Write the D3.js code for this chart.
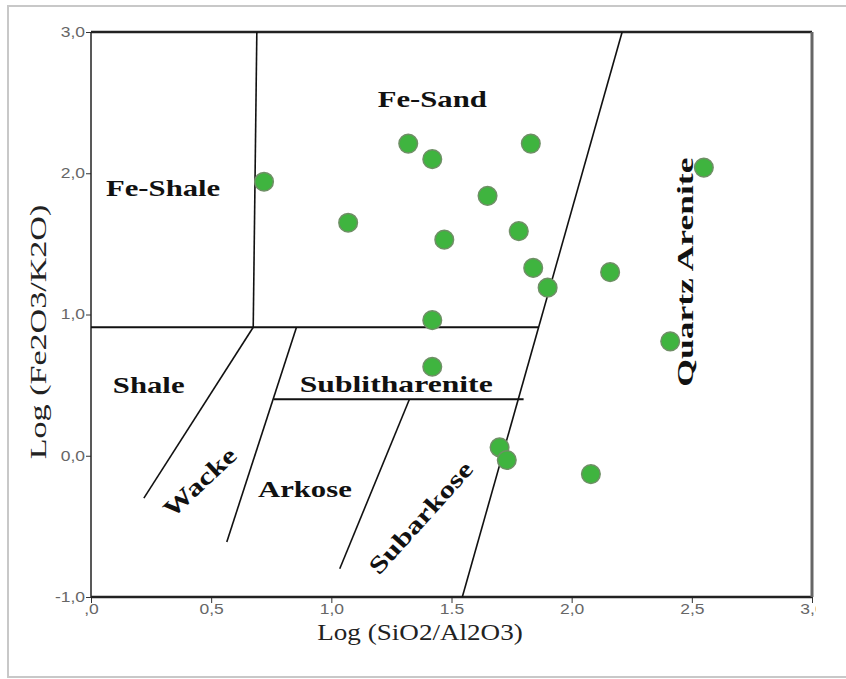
<!DOCTYPE html>
<html>
<head>
<meta charset="utf-8">
<script src="https://cdn.jsdelivr.net/npm/d3@7/dist/d3.min.js"></script>
<style>
  html, body { margin: 0; padding: 0; background: #fff; }
  svg { display: block; }
</style>
</head>
<body>
<svg id="chart" width="846" height="679"></svg>
<script>
// ---- data ----
const xTickValues = [0, 0.5, 1.0, 1.5, 2.0, 2.5, 3.0];
const xTickLabels = [",0", "0,5", "1,0", "1.5", "2,0", "2,5", "3,0"];
const yTickValues = [-1, 0, 1, 2, 3];
const yTickLabels = ["-1,0", "0,0", "1,0", "2,0", "3,0"];

const sampleX = [0.72, 1.07, 1.32, 1.42, 1.47, 1.65, 1.83, 1.78, 1.84, 1.90, 2.16, 2.55, 2.41, 1.42, 1.42, 1.70, 1.73, 2.08];
const sampleY = [1.94, 1.65, 2.21, 2.10, 1.53, 1.84, 2.21, 1.59, 1.33, 1.19, 1.30, 2.04, 0.81, 0.96, 0.63, 0.06, -0.03, -0.13];

// boundary lines (Herron 1988), each as [x1, y1, x2, y2]
const boundaryNames = ["FeShale|FeSand", "Fe|lower", "QuartzArenite", "Shale|Wacke", "Wacke|Arkose", "Sublitharenite", "Arkose|Subarkose"];
const boundaryLines = [
  [0.69, 3.0, 0.675, 0.91],
  [0.0, 0.91, 1.86, 0.91],
  [2.21, 3.0, 1.545, -1.0],
  [0.675, 0.91, 0.22, -0.30],
  [0.855, 0.91, 0.565, -0.61],
  [0.76, 0.40, 1.80, 0.40],
  [1.325, 0.40, 1.035, -0.80]
];

const regionLabels = ["Fe-Sand", "Fe-Shale", "Shale", "Sublitharenite", "Arkose", "Wacke", "Subarkose", "Quartz Arenite"];
const regionLabelX = [1.42, 0.30, 0.24, 1.27, 0.89, 0.46, 1.38, 2.48];
const regionLabelY = [2.51, 1.88, 0.48, 0.49, -0.25, -0.20, -0.45, 1.30];
const regionLabelAngle = [0, 0, 0, 0, 0, -43, -48, -90];
const regionLabelStretch = [1.28, 1.28, 1.28, 1.32, 1.28, 1.3, 1.32, 1.48];

// ---- layout ----
const svg = d3.select("#chart");
const margin = {left: 91, right: 34, top: 32, bottom: 82};
const W = 846, H = 679;
const x = d3.scaleLinear().domain([0, 3]).range([margin.left, W - margin.right]);
const y = d3.scaleLinear().domain([-1, 3]).range([H - margin.bottom, margin.top]);

// outer frame
svg.append("rect").attr("x", 8).attr("y", 6).attr("width", 850).attr("height", 671)
  .attr("fill", "none").attr("stroke", "#c8c8c8").attr("stroke-width", 2);

const serif = "'Liberation Serif', 'Times New Roman', serif";
const sans = "'Liberation Sans', Arial, sans-serif";

// clip for tick labels at right
svg.append("defs").append("clipPath").attr("id", "clipR")
  .append("rect").attr("x", 0).attr("y", 0).attr("width", 816).attr("height", H);

// axes
const xAxis = d3.axisBottom(x).tickValues(xTickValues).tickSize(6).tickFormat((d, i) => xTickLabels[i]);
const gx = svg.append("g").attr("transform", `translate(0,${y(-1)})`).attr("clip-path", "url(#clipR)").call(xAxis);
gx.select(".domain").remove();
gx.selectAll("line").attr("stroke", "#333");
gx.selectAll("text").attr("font-family", sans).attr("font-size", 14).attr("fill", "#666")
  .attr("y", 7).attr("transform", "scale(1.25,1)");

const yAxis = d3.axisLeft(y).tickValues(yTickValues).tickSize(5).tickFormat((d, i) => yTickLabels[i]);
const gy = svg.append("g").attr("transform", `translate(${x(0)},0)`).call(yAxis);
gy.select(".domain").remove();
gy.selectAll("line").attr("stroke", "#333");
gy.selectAll("text").attr("font-family", sans).attr("font-size", 14).attr("fill", "#666")
  .attr("x", -6 / 1.25).attr("transform", "scale(1.25,1)");

// plot frame
svg.append("line").attr("x1", x(0)).attr("x2", x(3)).attr("y1", y(3)).attr("y2", y(3)).attr("stroke", "#222").attr("stroke-width", 2.5);
svg.append("line").attr("x1", x(0)).attr("x2", x(3)).attr("y1", y(-1)).attr("y2", y(-1)).attr("stroke", "#222").attr("stroke-width", 2.5);
svg.append("line").attr("x1", x(0)).attr("x2", x(0)).attr("y1", y(3)).attr("y2", y(-1)).attr("stroke", "#222").attr("stroke-width", 1.5);
svg.append("line").attr("x1", x(3)).attr("x2", x(3)).attr("y1", y(3)).attr("y2", y(-1)).attr("stroke", "#666").attr("stroke-width", 3);

// boundary lines
svg.append("g").selectAll("line").data(boundaryLines).join("line")
  .attr("x1", d => x(d[0])).attr("y1", d => y(d[1]))
  .attr("x2", d => x(d[2])).attr("y2", d => y(d[3]))
  .attr("stroke", "#111").attr("stroke-width", d => d[1] === d[3] ? 2 : 1.6);

// region labels
svg.append("g").selectAll("text").data(regionLabels).join("text")
  .attr("transform", (d, i) => `translate(${x(regionLabelX[i])},${y(regionLabelY[i])}) rotate(${regionLabelAngle[i]}) scale(${regionLabelStretch[i]},1)`)
  .attr("text-anchor", "middle").attr("dominant-baseline", "middle")
  .attr("font-family", serif).attr("font-weight", "bold").attr("font-size", 24)
  .attr("fill", "#111")
  .text(d => d);

// points
const pts = sampleX.map((v, i) => ({x: v, y: sampleY[i]}));
svg.append("g").selectAll("circle").data(pts).join("circle")
  .attr("cx", d => x(d.x)).attr("cy", d => y(d.y)).attr("r", 9.3)
  .attr("fill", "#3fb43f").attr("stroke", "#6f8f66").attr("stroke-width", 1.5);

// axis titles
svg.append("text").attr("transform", "translate(420,640) scale(1.13,1)").attr("text-anchor", "middle")
  .attr("font-family", serif).attr("font-size", 24).attr("fill", "#222")
  .text("Log (SiO2/Al2O3)");
svg.append("text").attr("transform", `translate(46,332) rotate(-90) scale(1.42,1)`)
  .attr("text-anchor", "middle")
  .attr("font-family", serif).attr("font-size", 24).attr("fill", "#222")
  .text("Log (Fe2O3/K2O)");
</script>
</body>
</html>
